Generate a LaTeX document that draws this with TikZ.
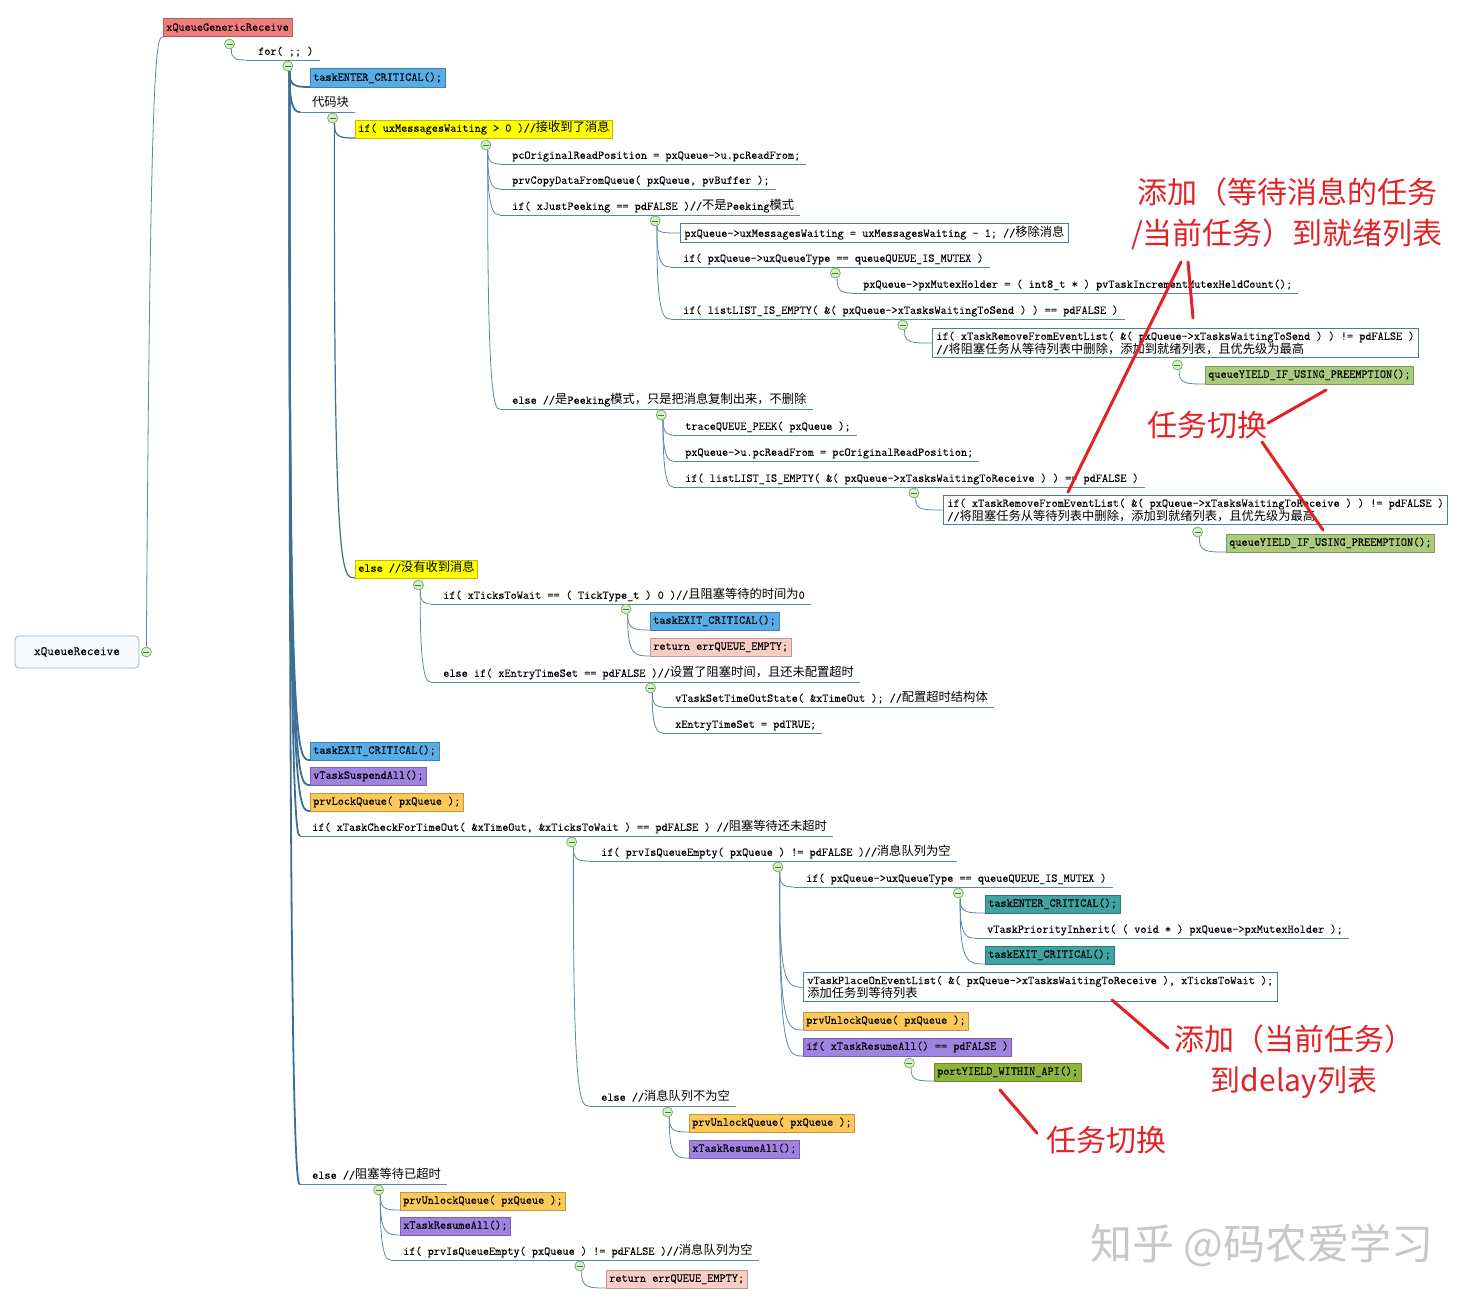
\documentclass[tikz,border=0pt]{standalone}
\usepackage{fontspec}
\setmonofont{Latin Modern Mono}[FakeBold=0.15]
\newfontfamily\zhfont{Noto Sans CJK SC}
\newfontfamily\zhcode[Scale=1.03]{Noto Sans CJK SC}
\usetikzlibrary{calc}
\pgfdeclarelayer{bg}
\pgfsetlayers{bg,main}
\newcommand\zhx[1]{{\zhcode #1}}
\definecolor{cred}{RGB}{240,125,125}
\definecolor{cblue}{RGB}{88,172,232}
\definecolor{cyel}{RGB}{255,255,0}
\definecolor{cgreen}{RGB}{170,202,125}
\definecolor{cpink}{RGB}{247,205,196}
\definecolor{cpurp}{RGB}{160,130,225}
\definecolor{corange}{RGB}{253,200,90}
\definecolor{cteal}{RGB}{64,162,162}
\definecolor{colive}{RGB}{140,180,60}
\definecolor{lnc}{RGB}{95,135,160}
\definecolor{lnd}{RGB}{60,110,150}
\definecolor{frc}{RGB}{80,125,145}
\definecolor{annred}{RGB}{225,35,40}
\definecolor{cgl}{RGB}{110,170,90}
\definecolor{cgf}{RGB}{215,238,200}
\definecolor{cgd}{RGB}{60,130,50}
\definecolor{wmc}{RGB}{200,200,200}
\definecolor{rootf}{RGB}{246,250,253}
\definecolor{rootd}{RGB}{150,175,190}
\tikzset{
  T/.style={font=\ttfamily\fontsize{11.9}{13.5}\selectfont, text=black},
  plain/.style={T, anchor=south west, inner sep=0pt, text height=9pt, text depth=3pt, yshift=2pt},
  bx/.style={T, anchor=south west, inner xsep=3pt, inner ysep=3pt, text height=9pt, text depth=3pt, line width=0.5pt},
  wbox/.style={T, anchor=south west, draw=frc, fill=white, inner xsep=4pt, inner ysep=3pt, align=left, line width=0.8pt},
  uline/.style={draw=lnc, line width=0.8pt},
  conn/.style={draw=lnc, line width=0.8pt},
  conn1/.style={draw=lnd, line width=1.8pt},
  conn2/.style={draw=lnd, line width=1.2pt},
  colc/.style={circle, minimum size=10pt, inner sep=0pt, draw=cgl, fill=cgf, line width=0.7pt,
    path picture={\draw[cgd, line width=0.8pt] ([xshift=-3pt]path picture bounding box.center) -- ([xshift=3pt]path picture bounding box.center);}},
  ann/.style={font=\zhfont\fontsize{30}{41}\selectfont, text=annred, inner sep=0pt},
  redl/.style={draw=annred, line width=3pt, line cap=round},
}
\newcommand\pn[4]{\node[plain] (#1) at (#2,#3) {#4};
  \draw[uline] ([xshift=-12pt,yshift=-2pt]#1.south west) coordinate (#1-in) -- ([xshift=6pt,yshift=-2pt]#1.south east);}
\newcommand\bn[5]{\node[bx, fill=#2, draw=#2!75!black] (#1) at (#3,#4) {#5};
  \coordinate (#1-in) at (#1.south west);}
\newcommand\wn[4]{\node[wbox] (#1) at (#2,#3) {#4};
  \coordinate (#1-in) at (#1.west);}
\newcommand\cc[2]{\node[colc] (#1-c) at ($(#1.south)+(2,#2)$) {};}
\newcommand\lk[3][conn]{\draw[#1] (#2-c.-70) .. controls ([xshift=1pt]#2-c.south |- #3-in) and ([xshift=9pt]#2-c.south |- #3-in) .. (#3-in);}
\begin{document}
\begin{tikzpicture}[x=1pt,y=-1pt]
\begin{pgfonlayer}{bg}
\fill[white] (0,0) rectangle (1483,1306);
\end{pgfonlayer}
\useasboundingbox (0,0) rectangle (1483,1306);

% root
\node[T, font=\ttfamily\fontsize{12.8}{14}\selectfont, draw=rootd, fill=rootf, rounded corners=4pt, minimum width=124pt, minimum height=32pt, line width=0.8pt] (root) at (77,652) {xQueueReceive};
\bn{gen}{cred}{163}{37}{xQueueGenericReceive}
\pn{for}{258}{60}{for( ;; )}
\bn{tec1}{cblue}{310}{87}{taskENTER\_CRITICAL();}
\pn{dmk}{312}{112}{\zhx{代码块}}
\bn{ifmsg}{cyel}{355}{138}{if( uxMessagesWaiting > 0 )//\zhx{接收到了消息}}
\pn{p1}{512}{164}{pcOriginalReadPosition = pxQueue->u.pcReadFrom;}
\pn{p2}{512}{189}{prvCopyDataFromQueue( pxQueue, pvBuffer );}
\pn{p3}{512}{215}{if( xJustPeeking == pdFALSE )//\zhx{不是}Peeking\zhx{模式}}
\wn{p31}{680}{243}{pxQueue->uxMessagesWaiting = uxMessagesWaiting - 1; //\zhx{移除消息}}
\pn{p32}{683}{267}{if( pxQueue->uxQueueType == queueQUEUE\_IS\_MUTEX )}
\pn{p321}{863}{293}{pxQueue->pxMutexHolder = ( int8\_t * ) pvTaskIncrementMutexHeldCount();}
\pn{p33}{683}{319}{if( listLIST\_IS\_EMPTY( \&( pxQueue->xTasksWaitingToSend ) ) == pdFALSE )}
\wn{p331}{932}{358}{if( xTaskRemoveFromEventList( \&( pxQueue->xTasksWaitingToSend ) ) != pdFALSE )\\//\zhx{将阻塞任务从等待列表中删除，添加到就绪列表，且优先级为最高}}
\bn{p3311}{cgreen}{1205}{384}{queueYIELD\_IF\_USING\_PREEMPTION();}
\pn{p4}{512}{409}{else //\zhx{是}Peeking\zhx{模式，只是把消息复制出来，不删除}}
\pn{p41}{685}{435}{traceQUEUE\_PEEK( pxQueue );}
\pn{p42}{685}{461}{pxQueue->u.pcReadFrom = pcOriginalReadPosition;}
\pn{p43}{685}{487}{if( listLIST\_IS\_EMPTY( \&( pxQueue->xTasksWaitingToReceive ) ) == pdFALSE )}
\wn{p431}{943}{525}{if( xTaskRemoveFromEventList( \&( pxQueue->xTasksWaitingToReceive ) ) != pdFALSE )\\//\zhx{将阻塞任务从等待列表中删除，添加到就绪列表，且优先级为最高}}
\bn{p4311}{cgreen}{1226}{552}{queueYIELD\_IF\_USING\_PREEMPTION();}
\bn{elsemsg}{cyel}{355}{578}{else //\zhx{没有收到消息}}
\pn{e1}{443}{604}{if( xTicksToWait == ( TickType\_t ) 0 )//\zhx{且阻塞等待的时间为}0}
\bn{e11}{cblue}{650}{630}{taskEXIT\_CRITICAL();}
\bn{e12}{cpink}{650}{656}{return errQUEUE\_EMPTY;}
\pn{e2}{443}{682}{else if( xEntryTimeSet == pdFALSE )//\zhx{设置了阻塞时间，且还未配置超时}}
\pn{e21}{675}{707}{vTaskSetTimeOutState( \&xTimeOut ); //\zhx{配置超时结构体}}
\pn{e22}{675}{733}{xEntryTimeSet = pdTRUE;}
\bn{tex1}{cblue}{310}{760}{taskEXIT\_CRITICAL();}
\bn{vsa}{cpurp}{310}{785}{vTaskSuspendAll();}
\bn{plq}{corange}{310}{811}{prvLockQueue( pxQueue );}
\pn{chk}{312}{836}{if( xTaskCheckForTimeOut( \&xTimeOut, \&xTicksToWait ) == pdFALSE ) //\zhx{阻塞等待还未超时}}
\pn{c1}{601}{861}{if( prvIsQueueEmpty( pxQueue ) != pdFALSE )//\zhx{消息队列为空}}
\pn{c11}{806}{887}{if( pxQueue->uxQueueType == queueQUEUE\_IS\_MUTEX )}
\bn{c111}{cteal}{985}{913}{taskENTER\_CRITICAL();}
\pn{c112}{987}{938}{vTaskPriorityInherit( ( void * ) pxQueue->pxMutexHolder );}
\bn{c113}{cteal}{985}{964}{taskEXIT\_CRITICAL();}
\wn{c12}{803}{1002}{vTaskPlaceOnEventList( \&( pxQueue->xTasksWaitingToReceive ), xTicksToWait );\\\zhx{添加任务到等待列表}}
\bn{c13}{corange}{803}{1030}{prvUnlockQueue( pxQueue );}
\bn{c14}{cpurp}{803}{1056}{if( xTaskResumeAll() == pdFALSE )}
\bn{c141}{colive}{934}{1081}{portYIELD\_WITHIN\_API();}
\pn{c2}{601}{1106}{else //\zhx{消息队列不为空}}
\bn{c21}{corange}{689}{1132}{prvUnlockQueue( pxQueue );}
\bn{c22}{cpurp}{689}{1158}{xTaskResumeAll();}
\pn{els}{312}{1184}{else //\zhx{阻塞等待已超时}}
\bn{s1}{corange}{400}{1210}{prvUnlockQueue( pxQueue );}
\bn{s2}{cpurp}{400}{1235}{xTaskResumeAll();}
\pn{s3}{403}{1260}{if( prvIsQueueEmpty( pxQueue ) != pdFALSE )//\zhx{消息队列为空}}
\bn{s31}{cpink}{606}{1288}{return errQUEUE\_EMPTY;}

% collapse circles
\node[colc] (root-c) at ($(root.east)+(7,0)$) {};
\foreach \nm in {gen,ifmsg,p331,p431,elsemsg,e1,c14} {\cc{\nm}{7}}
\foreach \nm in {for,dmk,p3,p32,p33,p4,p43,e2,chk,c1,c11,c2,els,s3} {\cc{\nm}{8}}

% connectors
\begin{pgfonlayer}{bg}
\draw[conn] (root-c.north) .. controls ([xshift=4pt]root-c.north |- gen.south west) and ([xshift=10pt]root-c.north |- gen.south west) .. (gen-in);
\lk{gen}{for}
\foreach \cnm in {tec1,dmk,tex1,vsa,plq,chk,els} {\lk[conn1]{for}{\cnm}}
\foreach \cnm in {ifmsg,elsemsg} {\lk[conn2]{dmk}{\cnm}}
\foreach \pnm/\cnm in {ifmsg/p1,ifmsg/p2,ifmsg/p3,ifmsg/p4,p3/p31,p3/p32,p3/p33,p32/p321,p33/p331,p331/p3311,
  p4/p41,p4/p42,p4/p43,p43/p431,p431/p4311,elsemsg/e1,elsemsg/e2,e1/e11,e1/e12,e2/e21,e2/e22,
  chk/c1,chk/c2,c1/c11,c1/c12,c1/c13,c1/c14,c11/c111,c11/c112,c11/c113,c14/c141,c2/c21,c2/c22,
  els/s1,els/s2,els/s3,s3/s31} {\lk{\pnm}{\cnm}}
\end{pgfonlayer}

% annotations
\node[ann, align=center] (a1) at (1287,214) {添加（等待消息的任务\\/当前任务）到就绪列表};
\node[ann] (a2) at (1207,425) {任务切换};
\node[ann, align=center] (a3) at (1294,1062) {添加（当前任务）\\到delay列表};
\node[ann] (a4) at (1106,1140) {任务切换};
\node[font=\zhfont\fontsize{42}{46}\selectfont, text=wmc, inner sep=0pt] (wm) at (1262,1245) {知乎 @码农爱学习};

\coordinate (r1s) at (1181,262); \coordinate (r1e) at (1068,492);
\coordinate (r2s) at (1188,262); \coordinate (r2e) at (1193,318);
\coordinate (r3s) at (1268,423); \coordinate (r3e) at (1326,390);
\coordinate (r4s) at (1262,442); \coordinate (r4e) at (1323,530);
\coordinate (r5s) at (1112,1000); \coordinate (r5e) at (1168,1048);
\coordinate (r6s) at (1000,1090); \coordinate (r6e) at (1037,1133);
\foreach \k in {1,...,6} {\draw[redl] (r\k s) -- (r\k e);}
\end{tikzpicture}
\end{document}
